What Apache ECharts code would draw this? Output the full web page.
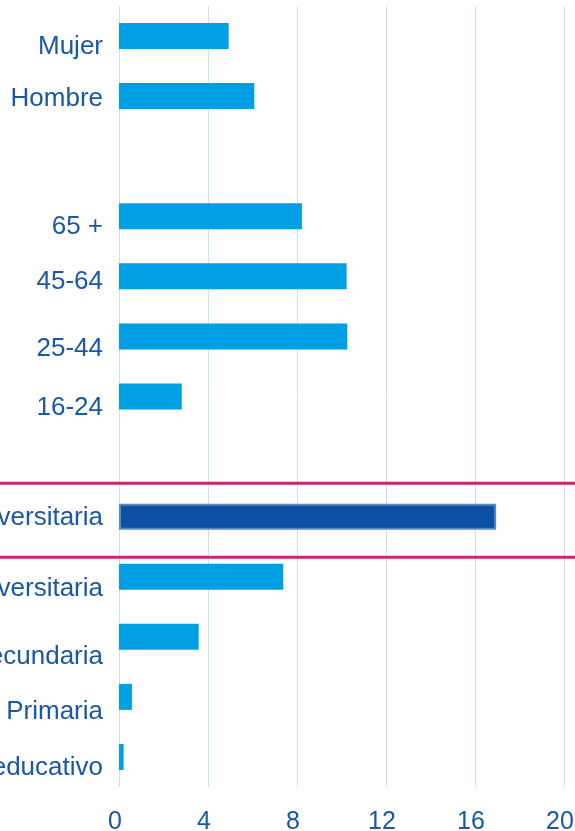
<!DOCTYPE html>
<html>
<head>
<meta charset="utf-8">
<script src="https://cdn.jsdelivr.net/npm/echarts@6/dist/echarts.min.js"></script>
<style>
html,body{margin:0;padding:0;background:#fff;}
#chart{width:575px;height:831px;}
</style>
</head>
<body>
<div id="chart"></div>
<script>
// ---- data ----
var categories = ['Mujer', 'Hombre', ' ', '65 +', '45-64', '25-44', '16-24', '  ',
  'Universitaria', 'Superior no universitaria', 'Educación secundaria', 'Primaria', 'Sin nivel educativo'];
var values = [4.93, 6.08, null, 8.22, 10.23, 10.26, 2.82, null, 16.95, 7.38, 3.58, 0.58, 0.21];
var highlightCategory = 'Universitaria';
var xTicks = [0, 4, 8, 12, 16, 20];

// ---- layout helpers (label vertical nudges in px, per row) ----
var labelNudge = [11, 2.5, 0, 10.5, 5, 12, 11, 0, 1.5, 12, 20.5, 15, 11];

var FONT = '"Liberation Sans", Arial, sans-serif';
var chart = echarts.init(document.getElementById('chart'), null, {renderer: 'canvas'});

var rich = {};
labelNudge.forEach(function (d, i) {
  rich['r' + i] = {
    fontFamily: FONT,
    fontSize: 26,
    color: '#1a57a7',
    padding: [Math.round(2 * d), 0, 0, 0]
  };
});

var barData = values.map(function (v, i) {
  if (categories[i] === highlightCategory) {
    return {value: v, itemStyle: {color: '#0b50a2', borderColor: '#5b87c0', borderWidth: 2}};
  }
  return v;
});

var option = {
  animation: false,
  backgroundColor: '#ffffff',
  textStyle: {fontFamily: FONT},
  grid: {left: 119, right: 11, top: 6, bottom: 44, containLabel: false, outerBoundsMode: 'none'},
  xAxis: {
    type: 'value',
    min: xTicks[0],
    max: xTicks[xTicks.length - 1],
    interval: xTicks[1] - xTicks[0],
    axisLine: {show: false},
    axisTick: {show: false},
    splitLine: {show: true, lineStyle: {color: '#c2e4f4', width: 1}},
    axisLabel: {
      fontFamily: FONT,
      fontSize: 25,
      color: '#1a57a7',
      margin: 23,
      padding: [0, 8, 0, 0]
    }
  },
  yAxis: {
    type: 'category',
    data: categories,
    inverse: true,
    axisLine: {show: false},
    axisTick: {show: false},
    splitLine: {show: false},
    axisLabel: {
      margin: 16,
      interval: 0,
      fontFamily: FONT,
      fontSize: 26,
      formatter: function (val, idx) {
        return '{r' + idx + '|' + val + '}';
      },
      rich: rich
    }
  },
  series: [{
    type: 'bar',
    data: barData,
    barWidth: 26,
    itemStyle: {color: '#009fe3'},
    silent: true
  }]
};

chart.setOption(option);

// separator lines around the highlighted category, positioned from the axis scale
var hiIdx = categories.indexOf(highlightCategory);
var yc = chart.convertToPixel({yAxisIndex: 0}, hiIdx);
var w = chart.getWidth();
chart.setOption({
  graphic: [
    {type: 'line', shape: {x1: 0, y1: yc - 33.5, x2: w, y2: yc - 33.5}, style: {stroke: '#c9266a', lineWidth: 3}, z: 100},
    {type: 'line', shape: {x1: 0, y1: yc + 40.5, x2: w, y2: yc + 40.5}, style: {stroke: '#c9266a', lineWidth: 3}, z: 100}
  ]
});
</script>
</body>
</html>
